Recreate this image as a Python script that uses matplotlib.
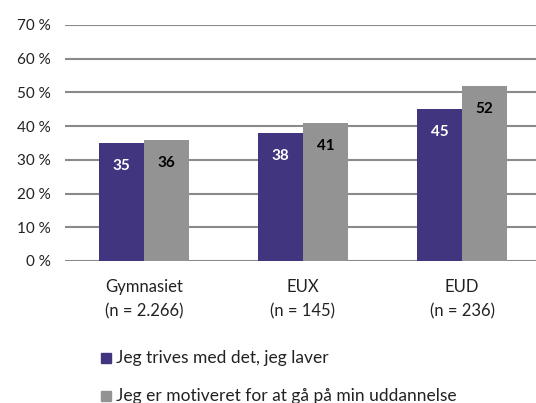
import matplotlib
matplotlib.use("Agg")
import matplotlib.pyplot as plt
import numpy as np
from matplotlib.patches import Rectangle

categories = ["Gymnasiet\n(n = 2.266)", "EUX\n(n = 145)", "EUD\n(n = 236)"]
series_names = ["Jeg trives med det, jeg laver", "Jeg er motiveret for at gå på min uddannelse"]
trives = [35, 38, 45]
motiveret = [36, 41, 52]
yticks = [0, 10, 20, 30, 40, 50, 60, 70]

purple = "#41357F"
gray = "#939393"
font = "Lato"

W, H = 536, 403
fig = plt.figure(figsize=(W/100, H/100), dpi=100)
left, right = 64.5, 541.5
top, bottom = 25, 261
ax = fig.add_axes([left/W, 1-bottom/H, (right-left)/W, (bottom-top)/H])

x = np.arange(len(categories))
bw = 45/159
ax.bar(x - bw/2, trives, bw, color=purple, zorder=3)
ax.bar(x + bw/2, motiveret, bw, color=gray, zorder=3)

ax.set_xlim(-0.5, 2.5)
ax.set_ylim(0, 70)
ax.set_yticks(yticks)
ax.set_yticklabels([f"{v} %" for v in yticks], fontsize=11, family=font, color="#222222")
ax.set_xticks(x)
ax.set_xticklabels(categories, fontsize=12, family=font, color="#222222", linespacing=1.6)
ax.tick_params(axis="y", length=0, pad=10)
ax.tick_params(axis="x", length=0, pad=13)
ax.grid(axis="y", color="#8a8a8a", linewidth=1.5, zorder=0)
for s in ax.spines.values():
    s.set_visible(False)

for xi, v in zip(x, trives):
    ax.annotate(f"{v}", (xi - bw/2, v), xytext=(0, -23*0.72), textcoords="offset points",
                ha="center", va="center", color="white", fontsize=11, fontweight="bold", family=font)
for xi, v in zip(x, motiveret):
    ax.annotate(f"{v}", (xi + bw/2, v), xytext=(0, -23*0.72), textcoords="offset points",
                ha="center", va="center", color="black", fontsize=11, fontweight="bold", family=font)

# legend
for i, (name, col) in enumerate(zip(series_names, [purple, gray])):
    yc = 358 + i*38
    fig.patches.append(Rectangle((101/W, 1-(yc+5)/H), 10/W, 10/H, transform=fig.transFigure,
                                 color=col, figure=fig))
    fig.text(116/W, 1-yc/H, name, fontsize=12.5, family=font, va="center", ha="left", color="#222222")

fig.savefig("out.png", dpi=100)
